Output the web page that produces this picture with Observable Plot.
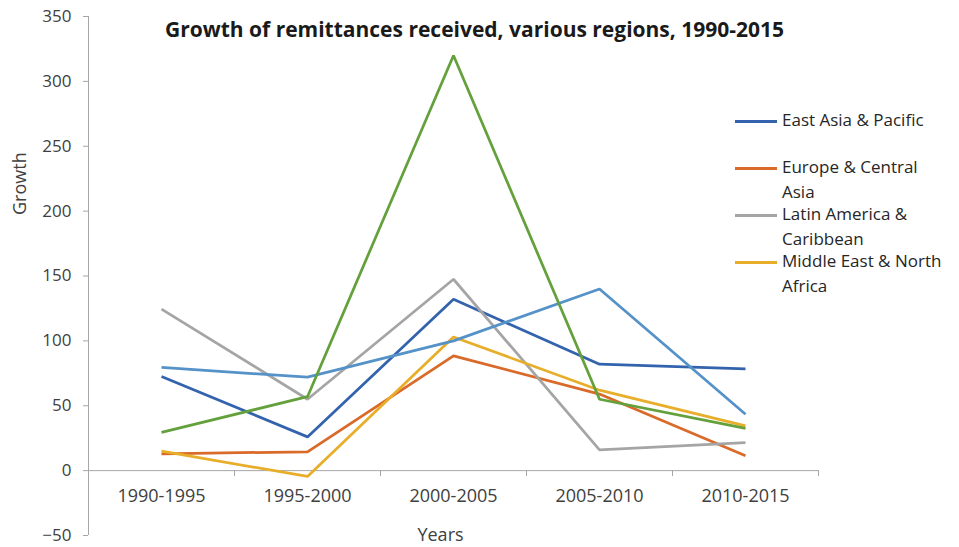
<!DOCTYPE html>
<html>
<head>
<meta charset="utf-8">
<script src="https://cdn.jsdelivr.net/npm/d3@7"></script>
<script src="https://cdn.jsdelivr.net/npm/@observablehq/plot@0.6"></script>
<style>
  html, body { margin: 0; padding: 0; background: #fff; }
  body { font-family: "Open Sans", sans-serif; }
  #wrap { position: relative; width: 959px; height: 547px; }
  #legend { position: absolute; left: 735px; top: 108px; width: 220px; font-size: 17px; color: #262626; }
  .item { display: flex; align-items: flex-start; height: 47px; }
  .sw { width: 42px; height: 3px; margin-top: 12px; margin-right: 5px; flex: none; }
  .lab { line-height: 24.5px; width: 160px; }
</style>
</head>
<body>
<div id="wrap"><div id="legend"></div></div>
<script>
const title = "Growth of remittances received, various regions, 1990-2015";
const categories = ["1990-1995", "1995-2000", "2000-2005", "2005-2010", "2010-2015"];
const seriesNames = ["East Asia & Pacific", "Europe & Central Asia", "Latin America & Caribbean", "Middle East & North Africa", "South Asia", "Sub-Saharan Africa"];
const seriesColors = ["#3463ae", "#d96a2a", "#a5a5a5", "#e8ae2a", "#5592c8", "#64a03c"];
const legendShown = ["East Asia & Pacific", "Europe & Central Asia", "Latin America & Caribbean", "Middle East & North Africa"];
const eastAsiaPacific = [72.5, 26, 132, 82, 78.5];
const europeCentralAsia = [13, 14.5, 88.5, 59, 11.5];
const latinAmericaCaribbean = [124.5, 55, 147.5, 16, 21.5];
const middleEastNorthAfrica = [15, -4.5, 103, 62, 34.5];
const southAsia = [79.5, 72, 100, 140, 43.5];
const subSaharanAfrica = [29.5, 57, 320, 55, 32.5];
const yTicks = [-50, 0, 50, 100, 150, 200, 250, 300, 350];

const allSeries = [eastAsiaPacific, europeCentralAsia, latinAmericaCaribbean, middleEastNorthAfrica, southAsia, subSaharanAfrica];
const data = allSeries.flatMap((vals, s) => vals.map((v, i) => ({series: seriesNames[s], i, category: categories[i], value: v})));
const boundaries = d3.range(categories.length + 1);

const axisGray = "#a6a6a6";
const textGray = "#404040";

const chart = Plot.plot({
  width: 959,
  height: 547,
  marginLeft: 88,
  marginRight: 141,
  marginTop: 16,
  marginBottom: 12,
  style: {fontFamily: "'Open Sans', sans-serif", background: "transparent"},
  x: {type: "linear", domain: [0, categories.length], axis: null},
  y: {domain: [-50, 350], axis: null},
  color: {domain: seriesNames, range: seriesColors},
  marks: [
    Plot.ruleX([0], {stroke: axisGray, strokeWidth: 1}),
    Plot.axisY({ticks: yTicks, tickSize: 5, tickPadding: 12, stroke: axisGray, fill: textGray, fontSize: 17, label: null}),
    Plot.ruleY([0], {stroke: axisGray, strokeWidth: 1}),
    Plot.ruleX(boundaries, {y1: 0, y2: -4.6, stroke: axisGray}),
    Plot.line(data, {x: d => d.i + 0.5, y: "value", z: "series", stroke: "series", strokeWidth: 2.75, strokeLinejoin: "miter", strokeLinecap: "butt"}),
    Plot.text(categories, {x: (d, i) => i + 0.5, y: () => 0, dy: 26, text: d => d, fontSize: 18, fill: textGray}),
    Plot.text([title], {frameAnchor: "top", dx: 21, dy: 14, lineAnchor: "middle", fontSize: 21, fontWeight: "bold", fill: "#1a1a1a"}),
    Plot.text(["Years"], {frameAnchor: "bottom", dx: -13, dy: 0, lineAnchor: "middle", fontSize: 18, fill: textGray}),
    Plot.text(["Growth"], {frameAnchor: "left", rotate: -90, dx: -68, dy: -61, lineAnchor: "middle", fontSize: 18, fill: textGray})
  ]
});
document.getElementById("wrap").prepend(chart);

const legend = document.getElementById("legend");
for (const name of legendShown) {
  const item = document.createElement("div");
  item.className = "item";
  const sw = document.createElement("div");
  sw.className = "sw";
  sw.style.background = seriesColors[seriesNames.indexOf(name)];
  const lab = document.createElement("div");
  lab.className = "lab";
  lab.textContent = name;
  item.append(sw, lab);
  legend.append(item);
}
</script>
</body>
</html>
